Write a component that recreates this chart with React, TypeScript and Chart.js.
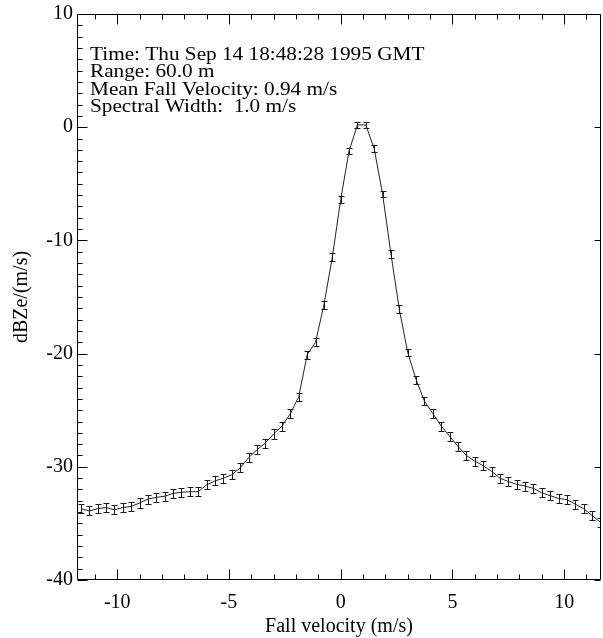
import React, { useEffect, useRef } from 'react';
import { Chart, registerables } from 'chart.js';

Chart.register(...registerables);

// Fall velocity bins (m/s)
const velocity = [
  -11.625, -11.25, -10.875, -10.5, -10.125, -9.75, -9.375, -9.0, -8.625, -8.25,
  -7.875, -7.5, -7.125, -6.75, -6.375, -6.0, -5.625, -5.25, -4.875, -4.5,
  -4.125, -3.75, -3.375, -3.0, -2.625, -2.25, -1.875, -1.5, -1.125, -0.75,
  -0.375, 0.0, 0.375, 0.75, 1.125, 1.5, 1.875, 2.25, 2.625, 3.0,
  3.375, 3.75, 4.125, 4.5, 4.875, 5.25, 5.625, 6.0, 6.375, 6.75,
  7.125, 7.5, 7.875, 8.25, 8.625, 9.0, 9.375, 9.75, 10.125, 10.5,
  10.875, 11.25, 11.625,
];

// Spectral reflectivity density dBZe/(m/s)
const dbz = [
  -33.7, -33.9, -33.7, -33.6, -33.8, -33.6, -33.5, -33.2, -32.85, -32.7,
  -32.6, -32.35, -32.25, -32.2, -32.2, -31.6, -31.25, -31.0, -30.7, -30.1,
  -29.2, -28.5, -27.9, -27.1, -26.4, -25.3, -23.8, -20.1, -19.0, -15.7,
  -11.5, -6.4, -2.1, 0.2, 0.2, -1.9, -5.9, -11.2, -16.1, -19.9,
  -22.3, -24.2, -25.3, -26.4, -27.3, -28.2, -29.0, -29.5, -29.9, -30.4,
  -31.0, -31.3, -31.55, -31.7, -31.9, -32.3, -32.55, -32.8, -32.9, -33.3,
  -33.7, -34.3, -34.9,
];

// Error bar half-heights
const dbzErr = [
  0.4, 0.4, 0.4, 0.4, 0.4, 0.4, 0.4, 0.4, 0.4, 0.4,
  0.4, 0.4, 0.4, 0.4, 0.4, 0.4, 0.4, 0.4, 0.4, 0.4,
  0.4, 0.4, 0.4, 0.4, 0.4, 0.4, 0.35, 0.35, 0.35, 0.35,
  0.35, 0.3, 0.3, 0.3, 0.3, 0.3, 0.3, 0.35, 0.35, 0.35,
  0.35, 0.35, 0.4, 0.4, 0.4, 0.4, 0.4, 0.4, 0.4, 0.4,
  0.4, 0.4, 0.4, 0.4, 0.4, 0.4, 0.4, 0.4, 0.4, 0.4,
  0.4, 0.4, 0.4,
];

const xTicks = [-10, -5, 0, 5, 10];
const yTicks = [-40, -30, -20, -10, 0, 10];

const infoLines = [
  'Time: Thu Sep 14 18:48:28 1995 GMT',
  'Range: 60.0 m',
  'Mean Fall Velocity: 0.94 m/s',
  'Spectral Width:  1.0 m/s',
];

const FONT = '"Liberation Serif", "Times New Roman", serif';

const idlPlugin = {
  id: 'idlFrame',
  afterDatasetsDraw(chart: any) {
    const { ctx, chartArea: a, scales } = chart;
    const x = scales.x;
    const y = scales.y;
    ctx.save();
    ctx.beginPath();
    ctx.rect(a.left, a.top, a.right - a.left, a.bottom - a.top);
    ctx.clip();
    ctx.strokeStyle = '#1a1a1a';
    ctx.lineWidth = 1;
    ctx.beginPath();
    for (let i = 0; i < velocity.length; i++) {
      const px = Math.round(x.getPixelForValue(velocity[i])) + 0.5;
      const y1 = Math.round(y.getPixelForValue(dbz[i] + dbzErr[i])) + 0.5;
      const y2 = Math.round(y.getPixelForValue(dbz[i] - dbzErr[i])) + 0.5;
      ctx.moveTo(px, y1);
      ctx.lineTo(px, y2);
      ctx.moveTo(px - 3, y1);
      ctx.lineTo(px + 3, y1);
      ctx.moveTo(px - 3, y2);
      ctx.lineTo(px + 3, y2);
    }
    ctx.stroke();
    ctx.restore();
  },
  afterDraw(chart: any) {
    const { ctx, chartArea: a, scales } = chart;
    const x = scales.x;
    const y = scales.y;
    ctx.save();
    ctx.strokeStyle = '#000';
    ctx.lineWidth = 1;
    const L = Math.round(a.left) + 0.5;
    const R = Math.round(a.right) - 0.5;
    const T = Math.round(a.top) + 0.5;
    const B = Math.round(a.bottom) - 0.5;
    ctx.beginPath();
    ctx.rect(L, T, R - L, B - T);
    for (let v = Math.ceil(x.min); v <= Math.floor(x.max); v++) {
      const px = Math.round(x.getPixelForValue(v)) + 0.5;
      const len = v % 5 === 0 ? 10 : 5;
      ctx.moveTo(px, B);
      ctx.lineTo(px, B - len);
      ctx.moveTo(px, T);
      ctx.lineTo(px, T + len);
    }
    for (let v = Math.ceil(y.min); v <= Math.floor(y.max); v++) {
      const py = Math.round(y.getPixelForValue(v)) + 0.5;
      const major = v % 10 === 0;
      const len = major ? 10 : 5;
      ctx.moveTo(L, py);
      ctx.lineTo(L + len, py);
      if (major) {
        ctx.moveTo(R, py);
        ctx.lineTo(R - 6, py);
      }
    }
    ctx.stroke();
    // annotation text (horizontally stretched like the original PostScript font)
    ctx.fillStyle = '#000';
    ctx.font = '18px ' + FONT;
    ctx.textBaseline = 'alphabetic';
    ctx.textAlign = 'left';
    const sx = 1.18;
    const x0 = a.left + 13;
    const base = a.top + 46;
    ctx.translate(x0, 0);
    ctx.scale(sx, 1);
    infoLines.forEach((t, i) => ctx.fillText(t, 0, base + i * 17.3));
    ctx.restore();
  },
};

export default function App() {
  const ref = useRef<HTMLCanvasElement | null>(null);
  useEffect(() => {
    const canvas = ref.current;
    if (!canvas) return;
    const chart = new Chart(canvas, {
      type: 'line',
      data: {
        datasets: [
          {
            data: velocity.map((v, i) => ({ x: v, y: dbz[i] })),
            borderColor: '#222',
            borderWidth: 1,
            pointRadius: 0,
            fill: false,
            tension: 0,
          },
        ],
      },
      options: {
        responsive: false,
        animation: false,
        devicePixelRatio: 1,
        layout: { padding: { top: 13, right: 2, left: 0, bottom: 0 } },
        plugins: { legend: { display: false }, tooltip: { enabled: false }, title: { display: false } },
        scales: {
          x: {
            type: 'linear',
            min: -11.8,
            max: 11.65,
            grid: { display: false, drawTicks: false },
            border: { display: false },
            afterBuildTicks: (s: any) => {
              s.ticks = xTicks.map((v) => ({ value: v }));
            },
            afterFit: (s: any) => {
              s.height = 58;
            },
            ticks: {
              color: '#000',
              padding: 13,
              maxRotation: 0,
              font: { family: FONT, size: 20, lineHeight: 1 },
              callback: (v: any) => String(v),
            },
            title: {
              display: true,
              text: 'Fall velocity (m/s)',
              color: '#000',
              font: { family: FONT, size: 20, lineHeight: 1 },
              padding: { top: 0, bottom: 1 },
            },
          },
          y: {
            type: 'linear',
            min: -40,
            max: 10,
            grid: { display: false, drawTicks: false },
            border: { display: false },
            afterBuildTicks: (s: any) => {
              s.ticks = yTicks.map((v) => ({ value: v }));
            },
            afterFit: (s: any) => {
              s.width = 77;
            },
            ticks: {
              color: '#000',
              padding: 4,
              font: { family: FONT, size: 20, lineHeight: 1 },
              callback: (v: any) => String(v),
            },
            title: {
              display: true,
              text: 'dBZe/(m/s)',
              color: '#000',
              font: { family: FONT, size: 20, lineHeight: 1 },
              padding: { top: 12, bottom: 0 },
            },
          },
        },
      },
      plugins: [idlPlugin],
    });
    return () => chart.destroy();
  }, []);
  return (
    <div style={{ position: 'fixed', left: 0, top: 0, width: 603, height: 638, background: '#fff' }}>
      <canvas ref={ref} width={603} height={638} />
    </div>
  );
}
